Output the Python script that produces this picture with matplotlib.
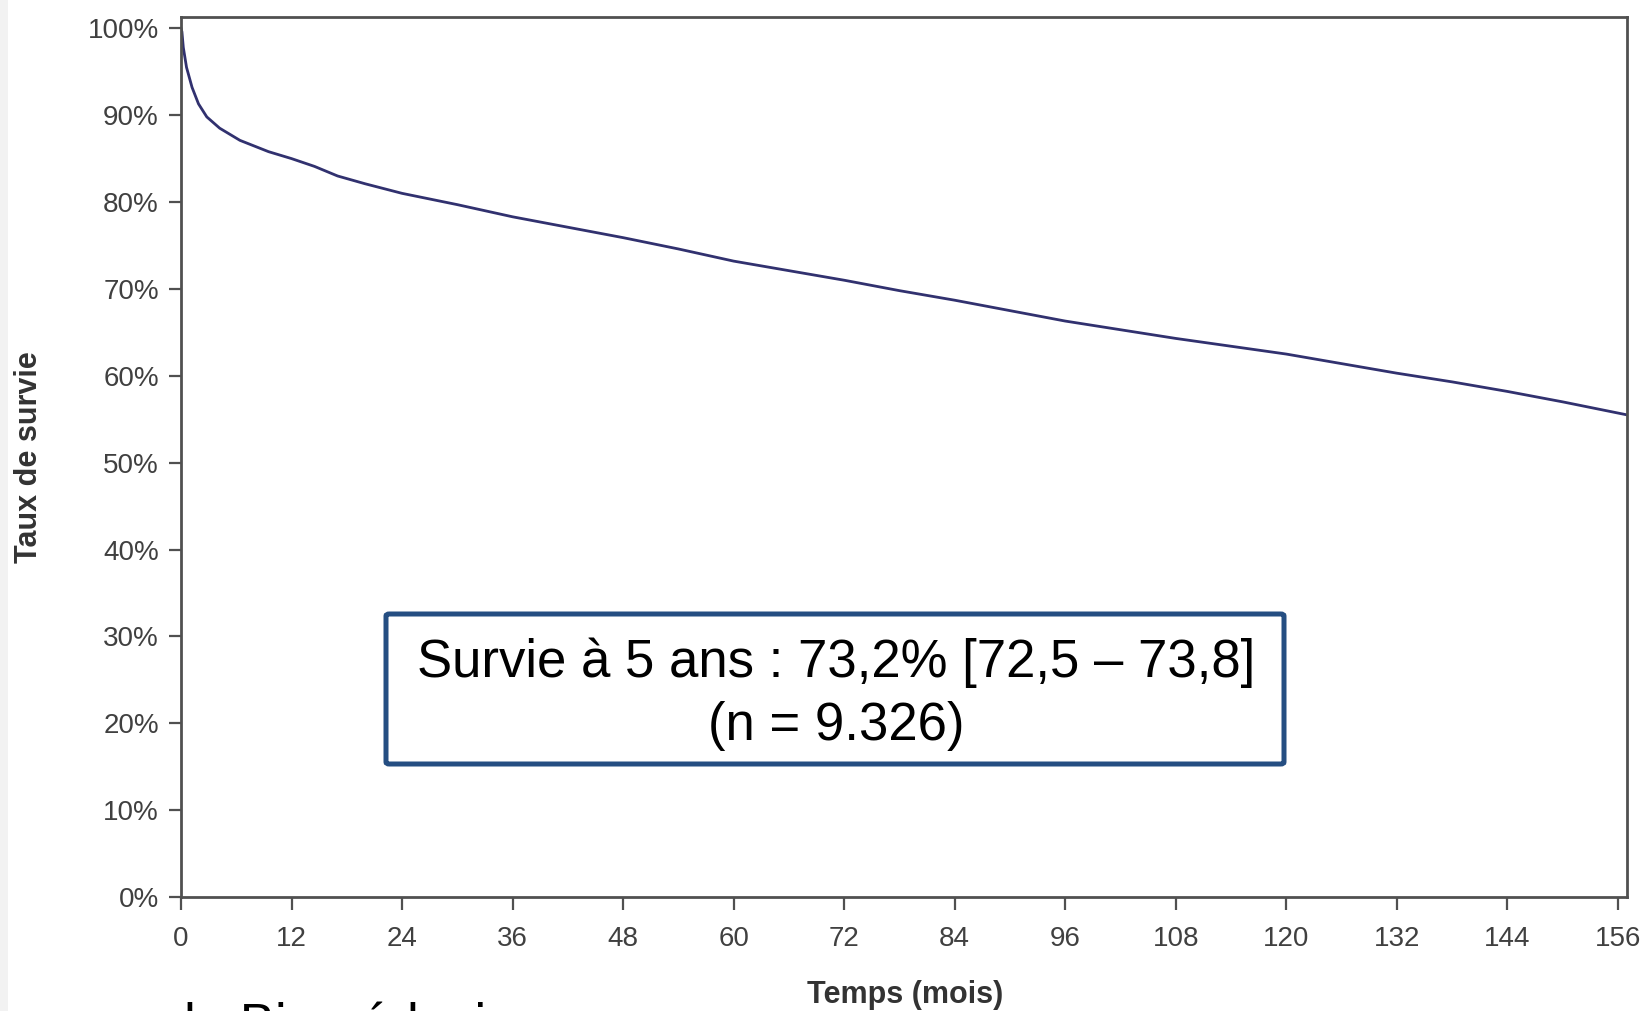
import matplotlib
matplotlib.use('Agg')
import matplotlib.pyplot as plt
from matplotlib.patches import Rectangle, FancyBboxPatch

plt.rcParams['font.family'] = ['Liberation Sans', 'DejaVu Sans']

# survival curve (months, % alive)
months = [0, 0.1, 0.25, 0.6, 1.2, 1.9, 2.8, 4.2, 6.4, 9.5, 12, 14.5, 17, 20, 24,
          30, 36, 42, 48, 54, 60, 66, 72, 78, 84, 90, 96, 102, 108, 114, 120,
          126, 132, 138, 144, 150, 157]
survie = [100, 99.6, 97.8, 95.5, 93.2, 91.3, 89.8, 88.5, 87.1, 85.8, 85.0, 84.1,
          83.0, 82.1, 81.0, 79.7, 78.3, 77.1, 75.9, 74.6, 73.2, 72.1, 71.0, 69.8,
          68.7, 67.5, 66.3, 65.3, 64.3, 63.4, 62.5, 61.4, 60.3, 59.3, 58.2, 57.0, 55.5]

x_ticks = list(range(0, 157, 12))
y_ticks = list(range(0, 101, 10))
y_labels = ['%d%%' % v for v in y_ticks]

box_text = 'Survie à 5 ans : 73,2% [72,5 – 73,8]\n(n = 9.326)'

W, H = 1644, 1011
fig = plt.figure(figsize=(W / 100, H / 100), dpi=100)
fig.patch.set_facecolor('white')

# thin grey page edge on the left
fig.patches.append(Rectangle((0, 0), 8 / W, 1, transform=fig.transFigure,
                             facecolor='#f2f2f2', edgecolor='none', zorder=0))

ax = fig.add_axes([181 / W, (H - 897) / H, 1446 / W, 880 / H])
ax.plot(months, survie, color='#31316f', lw=2.0)

ax.set_xlim(0, 157)
ax.set_ylim(0, 101.3)
ax.set_xticks(x_ticks)
ax.set_yticks(y_ticks)
ax.set_yticklabels(y_labels)

for s in ax.spines.values():
    s.set_color('#505050')
    s.set_linewidth(2)
ax.tick_params(axis='both', direction='out', length=9, width=1.6, color='#505050',
               labelsize=20, labelcolor='#404040')
ax.tick_params(axis='x', pad=12)
ax.tick_params(axis='y', pad=7)

fig.text(29 / W, 1 - 457 / H, 'Taux de survie', rotation=90, ha='center', va='center',
         fontsize=22, fontweight='bold', color='#333333')
fig.text(905 / W, 1 - 995 / H, 'Temps (mois)', ha='center', va='center',
         fontsize=22, fontweight='bold', color='#333333')

# annotation box
box = FancyBboxPatch((386 / W, 1 - 764 / H), 898 / W, 150 / H,
                     boxstyle='round,pad=0,rounding_size=0.002',
                     transform=fig.transFigure, facecolor='white',
                     edgecolor='#254e82', linewidth=3.6, zorder=5)
fig.patches.append(box)
fig.text(836 / W, 1 - 694 / H, box_text, ha='center', va='center',
         multialignment='center', linespacing=1.33, fontsize=38, color='black',
         zorder=6)

# slide text cut off by the bottom edge
fig.text(58 / W, 1 - 1042 / H, 'avec la Biomédecine', ha='left', va='baseline',
         fontsize=38, color='black')

fig.savefig('out.png', dpi=100)
